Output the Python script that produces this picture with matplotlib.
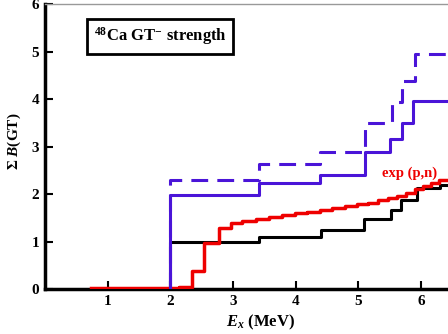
import matplotlib
matplotlib.use("Agg")
import matplotlib.pyplot as plt

plt.rcParams['font.family'] = ['Liberation Serif', 'DejaVu Serif']
plt.rcParams['font.weight'] = 'bold'
plt.rcParams['axes.labelweight'] = 'bold'
plt.rcParams['mathtext.fontset'] = 'custom'
plt.rcParams['mathtext.rm'] = 'Liberation Serif:bold'
plt.rcParams['mathtext.it'] = 'Liberation Serif:italic:bold'
plt.rcParams['mathtext.bf'] = 'Liberation Serif:bold'
plt.rcParams['mathtext.default'] = 'rm'

# step edges (MeV) and cumulative B(GT) after each edge
black_x = [2.0, 3.41, 4.40, 5.09, 5.52, 5.68, 5.94, 6.30, 6.45]
black_y = [1.00, 1.10, 1.25, 1.48, 1.67, 1.88, 2.12, 2.18]

blue_x = [2.0, 3.42, 4.38, 5.10, 5.50, 5.70, 5.87, 6.45]
blue_y = [1.97, 2.24, 2.41, 2.88, 3.15, 3.50, 3.95]

dash_x = [2.0, 3.42, 4.38, 5.10, 5.53, 5.70, 5.90, 6.45]
dash_y = [2.30, 2.63, 2.88, 3.50, 3.93, 4.37, 4.95]

red_x = [0.74, 2.14, 2.35, 2.54, 2.77, 2.96, 3.15, 3.36, 3.57, 3.78, 3.99,
         4.18, 4.38, 4.58, 4.78, 4.98, 5.15, 5.32, 5.48, 5.62, 5.76, 5.90,
         6.03, 6.16, 6.29, 6.45]
red_y = [0.03, 0.05, 0.38, 0.97, 1.29, 1.40, 1.44, 1.48, 1.52, 1.56, 1.60,
         1.63, 1.66, 1.70, 1.74, 1.78, 1.82, 1.87, 1.91, 1.96, 2.02, 2.10,
         2.17, 2.23, 2.30]

x_ticks = [1, 2, 3, 4, 5, 6]
y_ticks = [0, 1, 2, 3, 4, 5, 6]


def steps(edges, vals):
    # start from zero at the first edge, hold last value to the end
    return edges, [0.0] + list(vals) + [vals[-1]]


fig = plt.figure(figsize=(4.48, 3.34), dpi=100)
ax = fig.add_axes([0.1004, 0.1347, 0.8996, 0.8533])

bx, by = steps(black_x, black_y)
ax.step([bx[0]] + bx, by, where='post', color='black', lw=2.2, zorder=3)

rx = red_x
ry = list(red_y) + [red_y[-1]]
ax.step(rx, ry, where='post', color='#ee0000', lw=2.5, zorder=4)

ux, uy = steps(blue_x, blue_y)
ax.step([ux[0]] + ux, uy, where='post', color='#4a14d8', lw=2.2, zorder=5)

dx, dy = steps(dash_x, dash_y)
ax.step([dx[0]] + dx, dy, where='post', color='#4a14d8', lw=2.2,
        dashes=(5.5, 3.0), zorder=5)

ax.set_xlim(0, 6.43)
ax.set_ylim(0, 6)
ax.set_xticks(x_ticks)
ax.set_yticks(y_ticks)
ax.tick_params(direction='in', length=6, width=1.5, labelsize=11, pad=4)

for side in ('left', 'bottom'):
    ax.spines[side].set_linewidth(2.5)
ax.spines['right'].set_visible(False)
ax.spines['top'].set_linewidth(1.0)
ax.spines['top'].set_color('#999999')

ax.set_xlabel(r'$\mathit{E}_{\mathit{x}}$ (MeV)', fontsize=12)
ax.xaxis.set_label_coords(0.535, -0.085)
ax.set_ylabel(r'$\Sigma$ $\mathit{B}$(GT)', fontsize=11)
ax.yaxis.set_label_coords(-0.055, 0.52)

ax.text(0.78, 5.32, r'$^{48}$Ca GT$^{-}$ strength', fontsize=12,
        va='center', ha='left',
        bbox=dict(boxstyle='square,pad=0.4', fc='white', ec='black', lw=2))

ax.text(5.38, 2.43, 'exp (p,n)', color='#ee0000', fontsize=10.5,
        ha='left', va='center')

fig.savefig('out.png', dpi=100)
